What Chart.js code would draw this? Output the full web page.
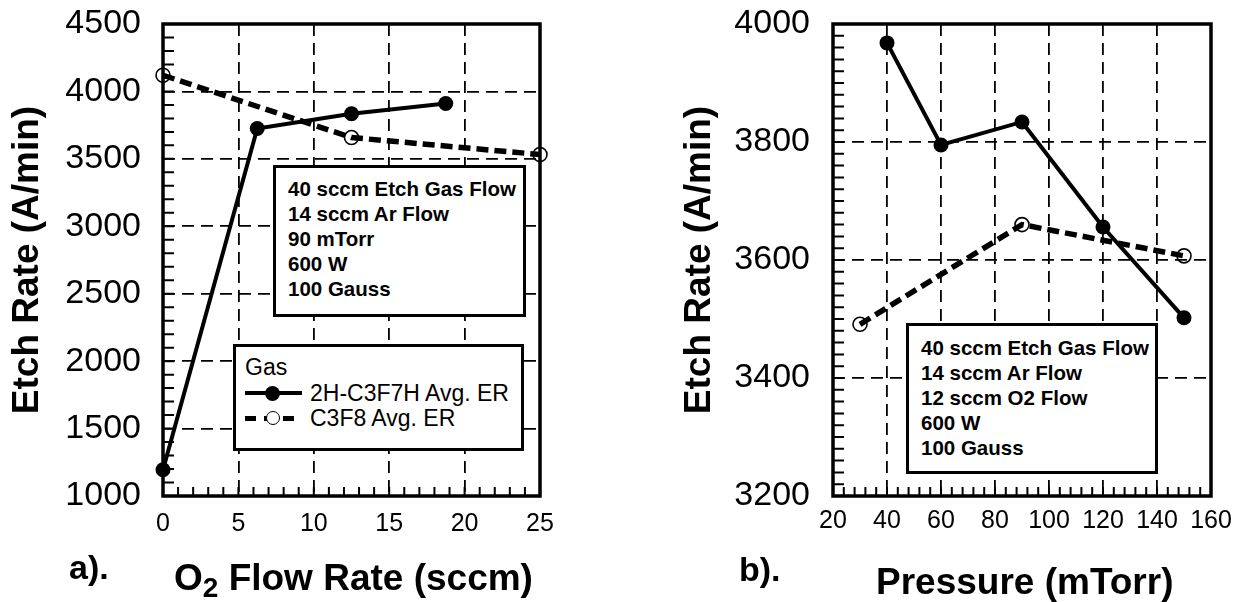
<!DOCTYPE html>
<html>
<head>
<meta charset="utf-8">
<script src="https://cdn.jsdelivr.net/npm/chart.js@4"></script>
<style>
  body { margin: 0; background: #fff; }
  #wrap { position: relative; width: 1248px; height: 602px; font-family: "Liberation Sans", Arial, sans-serif; color: #000; }
  canvas { position: absolute; top: 0; }
  .box { position: absolute; box-sizing: border-box; border: 3px solid #000; background: #fff; }
  .info { font-weight: bold; font-size: 20.5px; line-height: 25px; padding-left: 12px; white-space: nowrap; }
  .legend { font-size: 23px; line-height: 25.5px; padding: 8px 0 0 9px; white-space: nowrap; }
  .row { display: flex; align-items: center; height: 25.5px; }
  .sample { position: relative; width: 57px; height: 25px; margin-right: 8px; }
  .sample .ln { position: absolute; left: 0; right: 0; top: 10px; height: 4px; background: #000; }
  .sample .dash { position: absolute; left: 0; right: 0; top: 10px; height: 5px;
    background: repeating-linear-gradient(90deg, #000 0 11px, transparent 11px 19px); }
  .sample .dot { position: absolute; left: 20px; top: 5px; width: 15px; height: 15px; border-radius: 50%; background: #000; }
  .sample .ring { position: absolute; left: 21px; top: 5px; width: 12px; height: 12px; border-radius: 50%; border: 1.5px solid #000; background: #fff; }
  .tag { position: absolute; font-weight: bold; font-size: 34px; }
  .xtitle { position: absolute; font-weight: bold; font-size: 37px; white-space: nowrap; }
  .xtitle sub { font-size: 28px; vertical-align: -7px; line-height: 0; }
</style>
</head>
<body>
<div id="wrap">
  <canvas id="left" width="610" height="602" style="left:0"></canvas>
  <canvas id="right" width="628" height="602" style="left:620px"></canvas>

  <div class="box info" style="left:273px; top:165px; width:253px; height:152px; padding-top:8px;">
    <div>40 sccm Etch Gas Flow</div>
    <div>14 sccm Ar Flow</div>
    <div>90 mTorr</div>
    <div>600 W</div>
    <div>100 Gauss</div>
  </div>

  <div class="box legend" style="left:233px; top:344px; width:291px; height:107px;">
    <div class="row">Gas</div>
    <div class="row"><span class="sample"><span class="ln"></span><span class="dot"></span></span>2H-C3F7H Avg. ER</div>
    <div class="row"><span class="sample"><span class="dash"></span><span class="ring"></span></span>C3F8 Avg. ER</div>
  </div>

  <div class="box info" style="left:906px; top:323px; width:252px; height:151px; padding-top:9px;">
    <div>40 sccm Etch Gas Flow</div>
    <div>14 sccm Ar Flow</div>
    <div>12 sccm O2 Flow</div>
    <div>600 W</div>
    <div>100 Gauss</div>
  </div>

  <div class="tag" style="left:69px; top:548px;">a).</div>
  <div class="tag" style="left:739px; top:550px;">b).</div>
  <div class="xtitle" style="left:174px; top:557px;">O<sub>2</sub> Flow Rate (sccm)</div>
  <div class="xtitle" style="left:876px; top:561px;">Pressure (mTorr)</div>
</div>

<script>
// a) etch rate vs O2 flow
const o2Flow = [0, 6.25, 12.5, 18.75];
const c3f7hVsO2 = [1195, 3725, 3835, 3910];
const o2FlowC3F8 = [0, 12.5, 25];
const c3f8VsO2 = [4120, 3658, 3532];

// b) etch rate vs pressure
const pressure = [40, 60, 90, 120, 150];
const c3f7hVsP = [3968, 3795, 3834, 3656, 3502];
const pressureC3F8 = [30, 90, 150];
const c3f8VsP = [3491, 3660, 3607];

const FONT = '"Liberation Sans", Arial, sans-serif';

// frame round the plot plus the small inward ticks
function frameTicks(xMinor, yMinor) {
  return {
    id: 'frameTicks',
    beforeDatasetsDraw(chart) {
      try {
        const { ctx, chartArea: a } = chart;
        const x = chart.scales.x, y = chart.scales.y;
        ctx.save();
        ctx.setLineDash([]);
        ctx.strokeStyle = '#000';
        ctx.lineWidth = 2;
        ctx.beginPath();
        for (let v = x.min; v <= x.max + 1e-6; v += xMinor) {
          const px = x.getPixelForValue(v);
          ctx.moveTo(px, a.bottom); ctx.lineTo(px, a.bottom - 9);
        }
        for (let v = y.min; v <= y.max + 1e-6; v += yMinor) {
          const py = y.getPixelForValue(v);
          ctx.moveTo(a.left, py); ctx.lineTo(a.left + 11, py);
        }
        ctx.stroke();
        ctx.lineWidth = 3.5;
        ctx.strokeRect(a.left, a.top, a.right - a.left, a.bottom - a.top);
        ctx.restore();
      } catch (e) { console.log('frame error', e); }
    }
  };
}

function toPoints(xs, ys) { return xs.map((x, i) => ({ x: x, y: ys[i] })); }

function makeChart(id, cfg) {
  return new Chart(document.getElementById(id), {
    type: 'line',
    data: { datasets: [
      { data: cfg.solid, borderColor: '#000', borderWidth: 4, pointRadius: 7.5, pointBackgroundColor: '#000', pointBorderWidth: 0, clip: false },
      { data: cfg.dashed, borderColor: '#000', borderWidth: 5.5, borderDash: [12, 6], pointRadius: 7, pointBackgroundColor: 'rgba(0,0,0,0)', pointBorderWidth: 1.6, clip: false }
    ] },
    options: {
      responsive: false, animation: false,
      layout: { padding: { top: 24, right: cfg.padRight, left: 0, bottom: 0 } },
      plugins: { legend: { display: false }, tooltip: { enabled: false } },
      scales: {
        x: { type: 'linear', min: cfg.xMin, max: cfg.xMax,
          ticks: { stepSize: cfg.xStep, color: '#000', font: { family: FONT, size: 25 }, padding: cfg.xTickPad, maxRotation: 0, callback: (v) => String(v) },
          grid: { color: '#000', lineWidth: 1.8, drawTicks: false }, border: { display: false, dash: [12, 7] },
          afterFit: (axis) => { axis.height = 106; axis.paddingLeft = 0; axis.paddingRight = 0; } },
        y: { min: cfg.yMin, max: cfg.yMax,
          ticks: { stepSize: cfg.yStep, color: '#000', font: { family: FONT, size: 34 }, padding: cfg.yTickPad, callback: (v) => String(v) },
          grid: { color: '#000', lineWidth: 1.8, drawTicks: false }, border: { display: false, dash: [12, 7] },
          title: { display: true, text: 'Etch Rate (A/min)', color: '#000', font: { family: FONT, size: 37, weight: 'bold', lineHeight: 1 }, padding: { top: cfg.yTitlePad, bottom: 0 } },
          afterFit: (axis) => { axis.width = cfg.yWidth; axis.paddingTop = 0; axis.paddingBottom = 0; } }
      }
    },
    plugins: [frameTicks(cfg.xMinor, cfg.yMinor)]
  });
}

makeChart('left', { solid: toPoints(o2Flow, c3f7hVsO2), dashed: toPoints(o2FlowC3F8, c3f8VsO2),
  xMin: 0, xMax: 25, xStep: 5, xMinor: 1, yMin: 1000, yMax: 4500, yStep: 500, yMinor: 100,
  padRight: 70, yWidth: 163, xTickPad: 13, yTickPad: 22, yTitlePad: 9 });

makeChart('right', { solid: toPoints(pressure, c3f7hVsP), dashed: toPoints(pressureC3F8, c3f8VsP),
  xMin: 20, xMax: 160, xStep: 20, xMinor: 4, yMin: 3200, yMax: 4000, yStep: 200, yMinor: 20,
  padRight: 37, yWidth: 213, xTickPad: 10, yTickPad: 23, yTitlePad: 61 });
</script>
</body>
</html>
